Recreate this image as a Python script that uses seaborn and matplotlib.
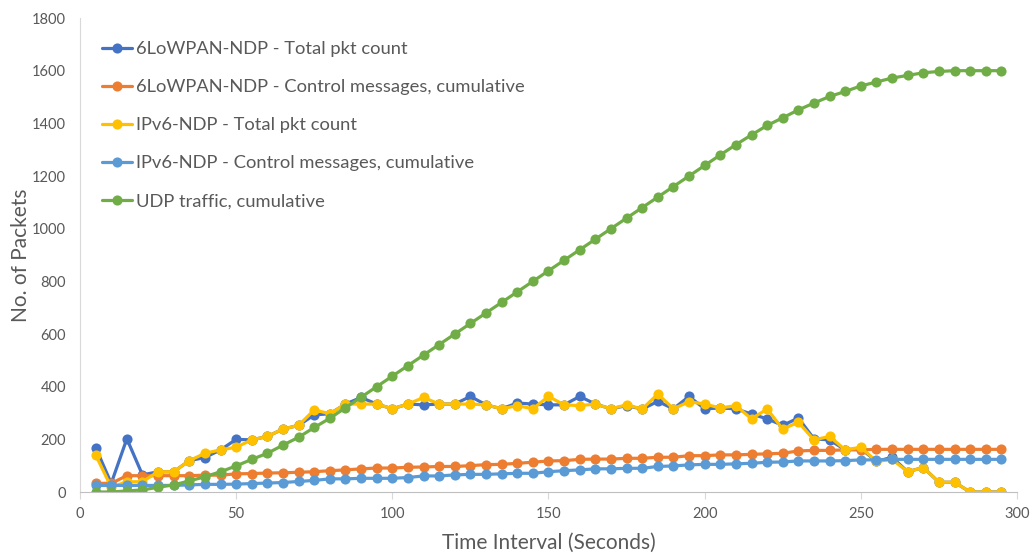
import matplotlib
matplotlib.use("Agg")
import matplotlib.pyplot as plt
import seaborn as sns
import pandas as pd

# Time axis (seconds)
time_s = [5, 10, 15, 20, 25, 30, 35, 40, 45, 50, 55, 60, 65, 70, 75, 80, 85, 90, 95, 100,
          105, 110, 115, 120, 125, 130, 135, 140, 145, 150, 155, 160, 165, 170, 175, 180,
          185, 190, 195, 200, 205, 210, 215, 220, 225, 230, 235, 240, 245, 250, 255, 260,
          265, 270, 275, 280, 285, 290, 295]

lowpan_total = [169, 33, 202, 65, 77, 77, 119, 131, 160, 200, 198, 211, 239, 253, 293, 297,
                334, 359, 334, 316, 334, 331, 334, 334, 363, 331, 316, 338, 334, 331, 331,
                363, 334, 316, 328, 315, 344, 316, 363, 316, 319, 316, 296, 278, 253, 281,
                202, 198, 160, 165, 116, 132, 77, 93, 37, 37, 0, 0, 0]

lowpan_control = [33, 33, 62, 62, 62, 62, 62, 64, 64, 69, 70, 72, 73, 75, 77, 81, 84, 88, 91,
                  91, 94, 95, 97, 97, 100, 104, 105, 109, 113, 118, 119, 124, 125, 125, 128,
                  128, 132, 132, 138, 138, 141, 141, 143, 145, 147, 156, 158, 158, 160, 160,
                  162, 162, 162, 162, 162, 162, 162, 162, 162]

ipv6_total = [141, 18, 39, 39, 77, 77, 119, 147, 160, 170, 198, 211, 239, 253, 312, 297, 334,
              334, 334, 316, 334, 359, 334, 334, 334, 331, 316, 328, 316, 363, 331, 328, 334,
              316, 331, 315, 372, 316, 343, 334, 319, 328, 278, 315, 239, 265, 198, 211, 160,
              170, 116, 124, 77, 93, 37, 37, 0, 0, 0]

ipv6_control = [25, 25, 25, 25, 25, 25, 27, 29, 29, 30, 32, 34, 36, 40, 44, 50, 50, 52, 52, 52,
                55, 61, 61, 65, 67, 67, 69, 71, 71, 77, 81, 84, 88, 88, 90, 90, 97, 99, 103,
                105, 105, 107, 109, 113, 114, 118, 118, 118, 119, 122, 122, 124, 124, 124, 124,
                124, 124, 124, 124]

udp_traffic = [0, 0, 4, 8, 18, 27, 42, 58, 77, 99, 124, 147, 178, 208, 245, 280, 320, 360, 400,
               440, 480, 520, 560, 600, 640, 680, 720, 760, 800, 840, 880, 920, 960, 1000, 1040,
               1080, 1120, 1160, 1200, 1240, 1280, 1319, 1356, 1392, 1421, 1451, 1477, 1502,
               1521, 1542, 1557, 1572, 1582, 1592, 1597, 1600, 1600, 1600, 1600]

series_names = [
    "6LoWPAN-NDP - Total pkt count",
    "6LoWPAN-NDP - Control messages, cumulative",
    "IPv6-NDP - Total pkt count",
    "IPv6-NDP - Control messages, cumulative",
    "UDP traffic, cumulative",
]
series_values = [lowpan_total, lowpan_control, ipv6_total, ipv6_control, udp_traffic]
series_colors = ["#4472C4", "#ED7D31", "#FFC000", "#5B9BD5", "#70AD47"]

frames = [pd.DataFrame({"Time": time_s, "Packets": vals, "Series": name})
          for name, vals in zip(series_names, series_values)]
df = pd.concat(frames, ignore_index=True)

sns.set_theme(style="white")
plt.rcParams["font.family"] = ["Lato", "DejaVu Sans"]

fig = plt.figure(figsize=(10.31, 5.54), dpi=100)
ax = fig.add_axes([0.0776, 0.1119, 0.9088, 0.8556])

sns.lineplot(data=df, x="Time", y="Packets", hue="Series", hue_order=series_names,
             palette=dict(zip(series_names, series_colors)), marker="o",
             markersize=7.3, markeredgewidth=0, linewidth=2.3, ax=ax)

ax.set_xlim(0, 300)
ax.set_ylim(0, 1800)
ax.set_xticks(range(0, 301, 50))
ax.set_yticks(range(0, 1801, 200))

grey_text = "#595959"
ax.tick_params(axis="x", colors=grey_text, labelsize=10.5, length=5, width=0.8,
               direction="out", bottom=True, color="#D9D9D9", pad=6)
ax.tick_params(axis="y", colors=grey_text, labelsize=10.5, length=0, pad=10)

for side in ["top", "right"]:
    ax.spines[side].set_visible(False)
ax.spines["left"].set_color("#D9D9D9")
ax.spines["bottom"].set_color("#BFBFBF")
ax.spines["left"].set_linewidth(0.8)
ax.spines["bottom"].set_linewidth(0.8)

ax.set_xlabel("Time Interval (Seconds)", fontsize=15, color=grey_text, labelpad=8)
ax.set_ylabel("No. of Packets", fontsize=15, color=grey_text, labelpad=1)

leg = ax.legend(loc="upper left", bbox_to_anchor=(0.01, 0.978), frameon=False,
                fontsize=13.2, handlelength=1.65, handletextpad=0.2, labelspacing=1.2,
                borderaxespad=0.3)
for text in leg.get_texts():
    text.set_color(grey_text)

fig.savefig("out.png", dpi=100, facecolor="white")
